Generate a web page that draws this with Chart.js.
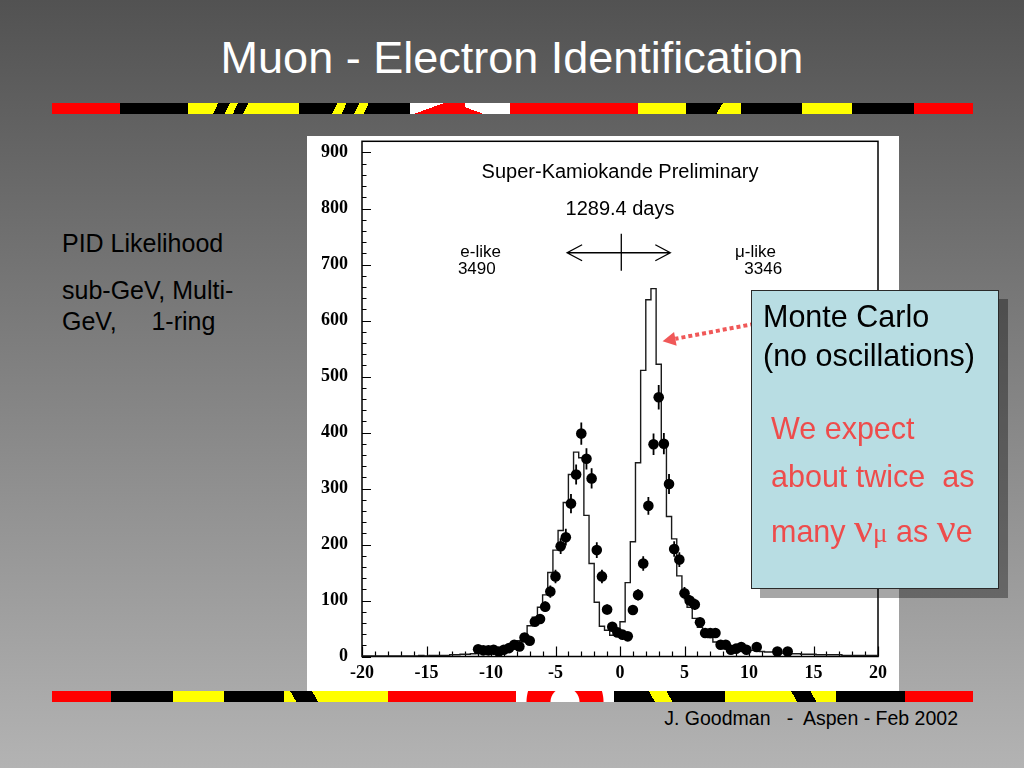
<!DOCTYPE html>
<html><head><meta charset="utf-8">
<script src="https://cdn.jsdelivr.net/npm/chart.js@4.4.1/dist/chart.umd.min.js"></script>
<style>
html,body{margin:0;padding:0;}
body{width:1024px;height:768px;position:relative;overflow:hidden;background:linear-gradient(#525252,#b3b3b3);font-family:"Liberation Sans",Arial,sans-serif;}
#title{position:absolute;left:0;width:1024px;top:30px;text-align:center;color:#fff;font-size:45px;line-height:56px;}
.stripe{position:absolute;left:0;top:0;width:1024px;height:11px;}
.seg{position:absolute;top:0;height:11px;}
#panel{position:absolute;left:307px;top:136px;width:592px;height:555px;background:#fff;}
#panel canvas{position:absolute;left:0;top:0;}
.lt{position:absolute;left:62px;font-size:25px;line-height:30px;color:#000;white-space:pre;}
#box{position:absolute;left:751px;top:290px;width:246px;height:297px;background:#b8dde3;border:1px solid #2a2a2a;box-shadow:9px 9px 0 rgba(0,0,0,0.35);}
#box div{position:absolute;white-space:pre;font-size:30.5px;line-height:36px;}
.blk{color:#000;left:11px;}
.red{color:#ee4c4c;left:19px;}
.nu{font-family:"Liberation Serif","Times New Roman",serif;font-size:42px;}
.mu{font-family:"Liberation Serif","Times New Roman",serif;font-size:27px;}
#foot{position:absolute;right:66px;top:706px;font-size:19.5px;line-height:24px;color:#000;white-space:pre;}
</style></head>
<body>
<div id="title">Muon - Electron Identification</div>

<div class="stripe" style="top:103px">
  <div class="seg" style="left:52px;width:68px;background:#f00"></div>
  <div class="seg" style="left:120px;width:68px;background:#000"></div>
  <div class="seg" style="left:188px;width:111px;background:linear-gradient(115deg,#ff0 0 26%,#000 26% 36%,#ff0 36% 43%,#000 43% 52%,#ff0 52%)"></div>
  <div class="seg" style="left:299px;width:111px;background:linear-gradient(115deg,#000 0 33%,#ff0 33% 41%,#000 41% 52%,#ff0 52% 60%,#000 60%)"></div>
  <div class="seg" style="left:410px;width:55px;background:linear-gradient(160deg,#fff 0 40%,#f00 40%)"></div>
  <div class="seg" style="left:465px;width:45px;background:linear-gradient(200deg,#fff 0 75%,#f00 75%)"></div>
  <div class="seg" style="left:510px;width:128px;background:#f00"></div>
  <div class="seg" style="left:638px;width:48px;background:#ff0"></div>
  <div class="seg" style="left:686px;width:55px;background:linear-gradient(120deg,#000 0 60%,#ff0 60%)"></div>
  <div class="seg" style="left:741px;width:61px;background:#000"></div>
  <div class="seg" style="left:802px;width:50px;background:#ff0"></div>
  <div class="seg" style="left:852px;width:62px;background:#000"></div>
  <div class="seg" style="left:914px;width:59px;background:#f00"></div>
</div>

<div id="panel"><canvas id="c" width="592" height="555"></canvas></div>

<div class="stripe" style="top:691px">
  <div class="seg" style="left:52px;width:59px;background:#f00"></div>
  <div class="seg" style="left:111px;width:62px;background:#000"></div>
  <div class="seg" style="left:173px;width:51px;background:#ff0"></div>
  <div class="seg" style="left:224px;width:60px;background:#000"></div>
  <div class="seg" style="left:284px;width:56px;background:linear-gradient(60deg,#ff0 0 20%,#000 20% 55%,#ff0 55%)"></div>
  <div class="seg" style="left:340px;width:48px;background:#ff0"></div>
  <div class="seg" style="left:388px;width:128px;background:#f00"></div>
  <div class="seg" style="left:516px;width:98px;background:radial-gradient(circle at 50% 100%,#fff 0 14px,#f00 15px 38px,#fff 39px)"></div>
  <div class="seg" style="left:614px;width:111px;background:linear-gradient(60deg,#000 0 35%,#ff0 35% 50%,#000 50%)"></div>
  <div class="seg" style="left:725px;width:53px;background:#ff0"></div>
  <div class="seg" style="left:778px;width:58px;background:linear-gradient(60deg,#ff0 0 30%,#000 30% 60%,#ff0 60%)"></div>
  <div class="seg" style="left:836px;width:69px;background:#000"></div>
  <div class="seg" style="left:905px;width:68px;background:#f00"></div>
</div>

<div class="lt" style="top:228px">PID Likelihood</div>
<div class="lt" style="top:275px">sub-GeV, Multi-</div>
<div class="lt" style="top:306px">GeV,     1-ring</div>

<div id="box">
  <div class="blk" style="top:7px">Monte Carlo</div>
  <div class="blk" style="top:46px">(no oscillations)</div>
  <div class="red" style="top:119px">We expect</div>
  <div class="red" style="top:167px">about twice  as</div>
  <div class="red" style="top:219px">many <span class="nu">ν</span><span class="mu">μ</span> as <span class="nu">ν</span>e</div>
</div>

<div id="foot">J. Goodman   -  Aspen - Feb 2002</div>

<script>
// ---- data ----
const binLow = -20;
const binWidth = 0.4;
// Monte Carlo (no oscillations) histogram contents, 100 bins from -20 to 20
const mcCounts = [
  1,1,1,1,1,1,1,1,1,1,
  1,1,2,1,2,2,2,2,3,3,
  4,4,5,6,7,
  8,9,11,13,16,
  21,28,40,55,70,
  88,110,150,190,225,
  275,325,365,355,252,
  166,97,54,47,38,
  40,62,132,205,346,
  511,637,657,522,379,
  250,210,144,110,88,
  68,52,42,34,26,
  21,18,16,14,13,
  12,11,10,9,8,
  8,7,6,6,5,
  5,4,4,4,3,
  3,3,3,3,2,
  2,2,2,2,2
];
// data points
const dataX = [-11.0,-10.6,-10.2,-9.8,-9.4,-9.0,-8.6,-8.2,-7.8,-7.4,-7.0,-6.6,-6.2,-5.8,-5.4,-5.0,-4.6,-4.2,-3.8,-3.4,
  -3.0,-2.6,-2.2,-1.8,-1.4,-1.0,-0.6,-0.2,0.2,0.6,1.0,1.4,1.8,2.2,2.6,3.0,3.4,3.8,4.2,4.6,
  5.0,5.4,5.8,6.2,6.6,7.0,7.4,7.8,8.2,8.6,9.0,9.4,9.8,10.6,12.2,13.0];
const dataY = [13,11,11,12,9,12,15,21,18,34,28,62,67,89,116,143,197,213,273,325,
  398,353,318,190,143,84,53,43,39,36,83,110,166,269,379,463,380,308,192,173,
  113,100,93,61,42,42,42,21,21,12,14,17,12,17,9,9];
const dataErr = [4,3,3,3,3,3,4,5,4,6,5,8,8,9,11,12,14,15,17,18,
  20,19,18,14,12,9,7,7,6,6,9,10,13,16,19,22,19,18,14,13,
  11,10,10,8,6,6,6,5,5,3,4,4,3,4,3,3];
const xTickLabels = [-20,-15,-10,-5,0,5,10,15,20];
const yTickLabels = [0,100,200,300,400,500,600,700,800,900];
const xMinorStep = 1, yMinorStep = 20;

// text annotations in data coordinates
const notes = [
  {text:'Super-Kamiokande Preliminary', x:0, y:865, size:20},
  {text:'1289.4 days', x:0, y:799, size:20},
  {text:'e-like', x:-10.8, y:721, size:17},
  {text:'3490', x:-11.1, y:691, size:17},
  {text:'\u03bc-like', x:10.5, y:721, size:17},
  {text:'3346', x:11.1, y:691, size:17}
];

// build datasets
const mcPoints = mcCounts.map((v,i)=>({x: binLow + i*binWidth, y: v}));
mcPoints.push({x: binLow + mcCounts.length*binWidth, y: mcCounts[mcCounts.length-1]});
const dataPoints = dataX.map((x,i)=>({x, y: dataY[i]}));

const decor = {
  id:'decor',
  beforeDatasetsDraw(chart){
    const {ctx, chartArea:a, scales:{x,y}} = chart;
    ctx.save();
    ctx.strokeStyle = '#000';
    ctx.lineWidth = 1.2;
    ctx.beginPath();
    for (let v = y.min; v <= y.max + 1e-9; v += yMinorStep) {
      const py = Math.round(y.getPixelForValue(v)) + 0.5;
      const len = yTickLabels.includes(Math.round(v)) ? 9 : 4.5;
      ctx.moveTo(a.left, py); ctx.lineTo(a.left + len, py);
    }
    for (let v = x.min; v <= x.max + 1e-9; v += xMinorStep) {
      const px = Math.round(x.getPixelForValue(v)) + 0.5;
      const len = xTickLabels.includes(Math.round(v)) ? 10 : 5;
      ctx.moveTo(px, a.bottom); ctx.lineTo(px, a.bottom - len);
    }
    ctx.stroke();
    ctx.lineWidth = 1.5;
    ctx.strokeRect(a.left, a.top, a.right - a.left, a.bottom - a.top);
    // error bars
    ctx.lineWidth = 1.8;
    ctx.beginPath();
    dataX.forEach((xv,i)=>{
      const px = x.getPixelForValue(xv);
      ctx.moveTo(px, y.getPixelForValue(dataY[i] - dataErr[i]));
      ctx.lineTo(px, y.getPixelForValue(dataY[i] + dataErr[i]));
    });
    ctx.stroke();
    // text notes
    ctx.fillStyle = '#000';
    ctx.textAlign = 'center'; ctx.textBaseline = 'middle';
    notes.forEach(n=>{
      ctx.font = n.size + 'px "Liberation Sans", Arial, sans-serif';
      ctx.fillText(n.text, x.getPixelForValue(n.x), y.getPixelForValue(n.y));
    });
    // double-headed arrow with central mark
    const ax1 = x.getPixelForValue(-4.1), ax2 = x.getPixelForValue(3.9), ay = y.getPixelForValue(721);
    ctx.lineWidth = 1.3;
    ctx.beginPath();
    ctx.moveTo(ax1, ay); ctx.lineTo(ax2, ay);
    ctx.moveTo(ax1 + 15, ay - 8); ctx.lineTo(ax1, ay); ctx.lineTo(ax1 + 15, ay + 8);
    ctx.moveTo(ax2 - 15, ay - 8); ctx.lineTo(ax2, ay); ctx.lineTo(ax2 - 15, ay + 8);
    const vx = x.getPixelForValue(0.1);
    ctx.moveTo(vx, y.getPixelForValue(755)); ctx.lineTo(vx, y.getPixelForValue(689));
    ctx.stroke();
    ctx.restore();
  },
  afterDatasetsDraw(chart){
    const {ctx, scales:{x,y}} = chart;
    ctx.save();
    const tx = x.getPixelForValue(3.3), ty = y.getPixelForValue(563);
    const sx = x.getPixelForValue(10.4), sy = y.getPixelForValue(594);
    const ang = Math.atan2(ty - sy, tx - sx);
    const hl = 13, hw = 7;
    const bx = tx - hl*Math.cos(ang), by = ty - hl*Math.sin(ang);
    ctx.strokeStyle = '#f05858'; ctx.fillStyle = '#f05858';
    ctx.lineWidth = 4; ctx.setLineDash([4,3]);
    ctx.beginPath(); ctx.moveTo(sx, sy); ctx.lineTo(bx, by); ctx.stroke();
    ctx.setLineDash([]);
    ctx.beginPath();
    ctx.moveTo(tx, ty);
    ctx.lineTo(bx + hw*Math.sin(ang), by - hw*Math.cos(ang));
    ctx.lineTo(bx - hw*Math.sin(ang), by + hw*Math.cos(ang));
    ctx.closePath(); ctx.fill();
    ctx.restore();
  }
};

const tickFont = {family:'"Liberation Serif","Times New Roman",serif', weight:'bold', size:18};

new Chart(document.getElementById('c'), {
  type:'scatter',
  data:{datasets:[
    {type:'line', label:'Monte Carlo', data:mcPoints, stepped:'after', borderColor:'#1a1a1a', borderWidth:1.4, pointRadius:0, fill:false, order:2},
    {type:'scatter', label:'Data', data:dataPoints, pointRadius:5.3, pointBackgroundColor:'#000', pointBorderWidth:0, order:1}
  ]},
  options:{
    responsive:false, animation:false,
    layout:{padding:{left:0, right:21, top:5, bottom:0}},
    plugins:{legend:{display:false}, tooltip:{enabled:false}},
    scales:{
      x:{type:'linear', min:-20, max:20,
        grid:{display:false, drawTicks:false}, border:{display:false},
        afterBuildTicks:s=>{ s.ticks = xTickLabels.map(v=>({value:v})); },
        afterFit:s=>{ s.height = 34.5; s.paddingLeft = 0; s.paddingRight = 0; },
        ticks:{font:tickFont, color:'#000', padding:6, maxRotation:0, autoSkip:false}},
      y:{type:'linear', min:0, max:920,
        grid:{display:false, drawTicks:false}, border:{display:false},
        afterBuildTicks:s=>{ s.ticks = yTickLabels.map(v=>({value:v})); },
        afterFit:s=>{ s.width = 55; s.paddingTop = 0; s.paddingBottom = 0; },
        ticks:{font:tickFont, color:'#000', padding:14, autoSkip:false}}
    }
  },
  plugins:[decor]
});
</script>
</body></html>
